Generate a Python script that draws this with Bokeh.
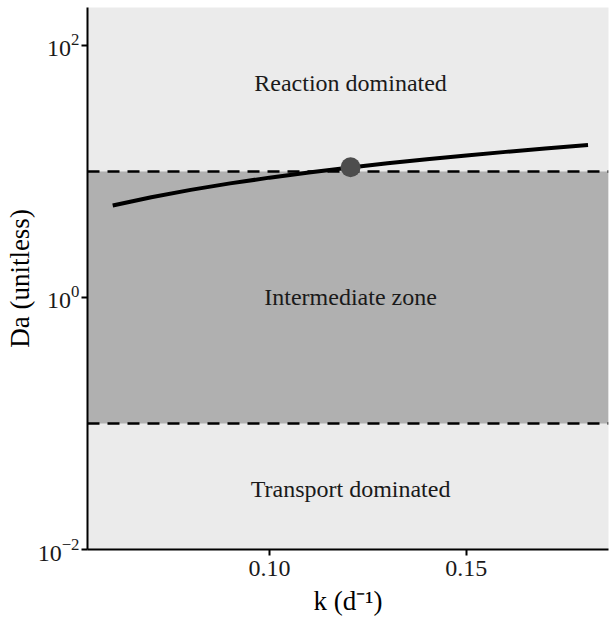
from bokeh.plotting import figure
from bokeh.models import Range1d, LogTickFormatter, FixedTicker, Span, BoxAnnotation
from bokeh.core.properties import value
from bokeh.embed import file_html
from bokeh.resources import INLINE

# Data
k_vals = [0.0602, 0.07, 0.08, 0.09, 0.10, 0.11, 0.12, 0.13, 0.14, 0.15, 0.16, 0.17, 0.1809]
da_vals = [5.37, 6.25, 7.14, 8.04, 8.93, 9.82, 10.7, 11.6, 12.5, 13.4, 14.3, 15.2, 16.2]
point_k = [0.1206]
point_da = [10.8]
zone_labels = ["Reaction dominated", "Intermediate zone", "Transport dominated"]
zone_label_y = [50, 1.0, 0.03]
zone_label_x = [0.1206, 0.1206, 0.1206]
lower_threshold = 0.1
upper_threshold = 10
x_ticks = [0.10, 0.15]
y_ticks = [0.01, 1, 100]

FONT = "Liberation Serif"

p = figure(width=609, height=621, y_axis_type="log", output_backend="svg",
           toolbar_location=None,
           x_range=Range1d(0.0538, 0.1861), y_range=Range1d(0.01, 200))
p.min_border_left = 87
p.min_border_right = 1
p.min_border_top = 7
p.min_border_bottom = 72
p.outline_line_color = None
p.background_fill_color = "#EBEBEB"
p.border_fill_color = "white"
p.grid.visible = False

p.add_layout(BoxAnnotation(bottom=lower_threshold, top=upper_threshold,
                           fill_color="#B0B0B0", fill_alpha=1.0, line_color=None,
                           level="underlay"))
for yv in [lower_threshold, upper_threshold]:
    p.add_layout(Span(location=yv, dimension="width", line_color="black",
                      line_width=2.5, line_dash="12 8", level="underlay"))

p.line(k_vals, da_vals, line_color="black", line_width=4)
p.scatter(point_k, point_da, size=20, fill_color="#4D4D4D", line_color=None)

p.text(zone_label_x, zone_label_y, text=zone_labels, text_align="center",
       text_baseline="middle", text_font=value(FONT), text_font_size="24px",
       text_color="#1A1A1A")

for ax in [p.xaxis[0], p.yaxis[0]]:
    ax.axis_line_width = 2
    ax.axis_line_color = "black"
    ax.major_tick_line_color = "black"
    ax.major_tick_line_width = 2
    ax.major_tick_out = 6
    ax.major_tick_in = 0
    ax.minor_tick_line_color = None
    ax.major_label_text_font = FONT
    ax.major_label_text_font_size = "24px"
    ax.major_label_text_color = "#1A1A1A"
    ax.axis_label_text_font = FONT
    ax.axis_label_text_font_size = "27px"
    ax.axis_label_text_font_style = "normal"
    ax.axis_label_text_color = "black"

p.xaxis.ticker = FixedTicker(ticks=x_ticks)
p.xaxis.major_label_overrides = {0.10: "0.10", 0.15: "0.15"}
p.yaxis.ticker = FixedTicker(ticks=y_ticks)
p.yaxis.formatter = LogTickFormatter()
p.xaxis.axis_label = "k (d\u207b\u00b9)"
p.yaxis.axis_label = "Da (unitless)"
p.xaxis.major_label_standoff = 5
p.yaxis.major_label_standoff = 2
p.xaxis.axis_label_standoff = 7
p.yaxis.axis_label_standoff = 0

open("out.html", "w").write(file_html(p, INLINE))
